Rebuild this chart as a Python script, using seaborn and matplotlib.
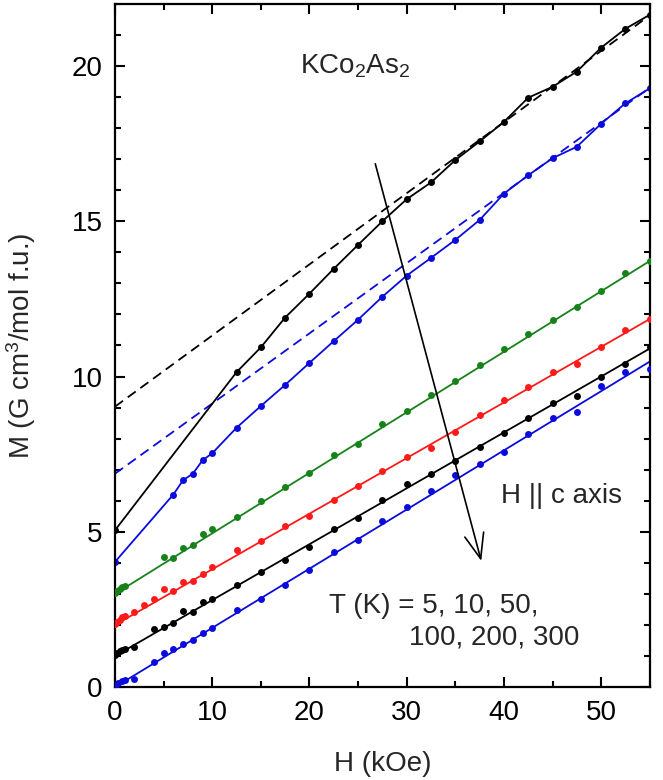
import matplotlib
matplotlib.use("Agg")
import matplotlib.pyplot as plt
import seaborn as sns
import numpy as np
import pandas as pd
from matplotlib.ticker import MultipleLocator

# ---------------- data ----------------
# 5 K (offset +5), black, connected points
H_5 = [0, 12.5, 15, 17.5, 20, 22.5, 25, 27.5, 30, 32.5, 35, 37.5, 40, 42.5, 45, 47.5, 50, 52.5, 55]
M_5 = [5.05, 10.14, 10.94, 11.9, 12.67, 13.47, 14.24, 15.0, 15.71, 16.25, 16.97, 17.57, 18.2, 18.98,
       19.33, 19.82, 20.59, 21.2, 21.65]
# 10 K (offset +4), blue, connected points
H_10 = [0, 6, 7, 8, 9, 10, 12.5, 15, 17.5, 20, 22.5, 25, 27.5, 30, 32.5, 35, 37.5, 40, 42.5, 45,
        47.5, 50, 52.5, 55]
M_10 = [4.03, 6.2, 6.66, 6.87, 7.3, 7.53, 8.35, 9.05, 9.73, 10.44, 11.14, 11.83, 12.57, 13.25, 13.82,
        14.4, 15.04, 15.89, 16.48, 17.03, 17.4, 18.14, 18.8, 19.28]
# 50 K (offset +3), green
H_50 = [0, 0.25, 0.5, 0.75, 1.0, 5, 6, 7, 8, 9, 10, 12.5, 15, 17.5, 20, 22.5, 25, 27.5, 30, 32.5,
        35, 37.5, 40, 42.5, 45, 47.5, 50, 52.5, 55]
M_50 = [3.03, 3.1, 3.16, 3.21, 3.25, 4.19, 4.16, 4.49, 4.56, 4.94, 5.08, 5.48, 5.98, 6.44, 6.9, 7.48,
        7.84, 8.48, 8.9, 9.39, 9.87, 10.38, 10.87, 11.37, 11.83, 12.23, 12.77, 13.33, 13.71]
# 100 K (offset +2), red
H_100 = [0, 0.25, 0.5, 0.75, 1.0, 2, 3, 4, 5, 6, 7, 8, 9, 10, 12.5, 15, 17.5, 20, 22.5, 25, 27.5,
         30, 32.5, 35, 37.5, 40, 42.5, 45, 47.5, 50, 52.5, 55]
M_100 = [2.02, 2.1, 2.17, 2.24, 2.3, 2.42, 2.64, 2.85, 3.15, 3.09, 3.37, 3.42, 3.63, 3.85, 4.42, 4.7,
         5.19, 5.5, 6.03, 6.47, 6.96, 7.4, 7.7, 8.21, 8.75, 9.23, 9.66, 10.14, 10.4, 10.94, 11.51, 11.85]
# 200 K (offset +1), black
H_200 = [0, 0.25, 0.5, 0.75, 1.0, 2, 4, 5, 6, 7, 8, 9, 10, 12.5, 15, 17.5, 20, 22.5, 25, 27.5, 30,
         32.5, 35, 37.5, 40, 42.5, 45, 47.5, 50, 52.5, 55]
M_200 = [1.03, 1.1, 1.17, 1.2, 1.24, 1.28, 1.86, 1.92, 2.05, 2.45, 2.42, 2.74, 2.85, 3.28, 3.71, 4.1,
         4.51, 5.1, 5.45, 6.03, 6.55, 6.85, 7.27, 7.73, 8.19, 8.67, 9.14, 9.37, 10.0, 10.39, 10.94]
# 300 K (offset 0), blue
H_300 = [0, 0.35, 0.7, 1.0, 2, 4, 5, 6, 7, 8, 9, 10, 12.5, 15, 17.5, 20, 22.5, 25, 27.5, 30, 32.5,
         35, 37.5, 40, 42.5, 45, 47.5, 50, 52.5, 55]
M_300 = [0.01, 0.12, 0.19, 0.22, 0.25, 0.81, 1.1, 1.21, 1.4, 1.51, 1.75, 1.89, 2.48, 2.85, 3.28, 3.76,
         4.35, 4.73, 5.35, 5.8, 6.3, 6.82, 7.17, 7.57, 8.16, 8.66, 8.85, 9.71, 10.14, 10.25]

# linear fits (end points)
FIT_H = [0, 55]
FIT_50 = [3.0, 13.72]
FIT_100 = [2.0, 11.85]
FIT_200 = [1.0, 10.9]
FIT_300 = [0.0, 10.48]
# high-field linear extrapolations (dashed)
DASH_H = [0, 55]
DASH_5 = [9.03, 21.63]
DASH_10 = [6.87, 19.3]

X_TICKS = [0, 10, 20, 30, 40, 50]
Y_TICKS = [0, 5, 10, 15, 20]

# ---------------- style ----------------
sns.set_style("ticks")
plt.rcParams['font.family'] = ['Liberation Sans', 'DejaVu Sans']
plt.rcParams['mathtext.fontset'] = 'custom'
plt.rcParams['mathtext.rm'] = 'Liberation Sans'
plt.rcParams['mathtext.it'] = 'Liberation Sans:italic'
plt.rcParams['mathtext.bf'] = 'Liberation Sans:bold'

BLACK = '#000000'
BLUE = '#0b0bdc'
GREEN = '#17821a'
RED = '#ff1a1a'

FS = 20

fig = plt.figure(figsize=(6.63, 7.8), dpi=100)
ax = fig.add_axes([0.1735, 0.1192, 0.8065, 0.8758])

lw = 1.3
ms = 5.0

# dashed extrapolations
sns.lineplot(x=DASH_H, y=DASH_5, ax=ax, color=BLACK, lw=lw, linestyle=(0, (5.5, 3.2)))
sns.lineplot(x=DASH_H, y=DASH_10, ax=ax, color=BLUE, lw=lw, linestyle=(0, (5.5, 3.2)))

# connected low-T curves
sns.lineplot(x=H_5, y=M_5, ax=ax, color=BLACK, lw=lw, marker='o', markersize=ms,
             markeredgewidth=0, sort=False, estimator=None)
sns.lineplot(x=H_10, y=M_10, ax=ax, color=BLUE, lw=lw, marker='o', markersize=ms,
             markeredgewidth=0, sort=False, estimator=None)

# fits + points
for hh, mm, fit, col in [(H_50, M_50, FIT_50, GREEN), (H_100, M_100, FIT_100, RED),
                         (H_200, M_200, FIT_200, BLACK), (H_300, M_300, FIT_300, BLUE)]:
    sns.lineplot(x=FIT_H, y=fit, ax=ax, color=col, lw=lw)
    sns.scatterplot(x=hh, y=mm, ax=ax, color=col, s=ms ** 2, linewidth=0, zorder=3)

ax.set_xlim(0, 55)
ax.set_ylim(0, 22)
ax.set_xticks(X_TICKS)
ax.set_yticks(Y_TICKS)
ax.xaxis.set_minor_locator(MultipleLocator(5))
ax.yaxis.set_minor_locator(MultipleLocator(1))
ax.tick_params(which='both', direction='in', top=True, right=True, width=1.5, colors='black',
               labelsize=FS, pad=9)
ax.tick_params(which='major', length=7)
ax.tick_params(which='minor', length=4)
for sp in ax.spines.values():
    sp.set_linewidth(1.6)
    sp.set_color('black')

ax.set_xlabel('H (kOe)', fontsize=FS, labelpad=18)
ax.set_ylabel('M (G cm$^3$/mol f.u.)', fontsize=FS, labelpad=24)

# annotations
ax.text(19.0, 19.77, 'KCo$_2$As$_2$', fontsize=FS, ha='left', va='baseline')
ax.text(39.66, 5.93, 'H || c axis', fontsize=FS, ha='left', va='baseline')
ax.text(22.05, 2.40, 'T (K) = 5, 10, 50,', fontsize=FS, ha='left', va='baseline')
ax.text(30.26, 1.38, '100, 200, 300', fontsize=FS, ha='left', va='baseline')
ax.annotate('', xy=(37.67, 4.06), xytext=(26.77, 16.85),
            arrowprops=dict(arrowstyle='->,head_length=0.9,head_width=0.35', lw=1.2,
                            color='black', mutation_scale=20, shrinkA=0, shrinkB=0))

fig.savefig('out.png', dpi=100)
